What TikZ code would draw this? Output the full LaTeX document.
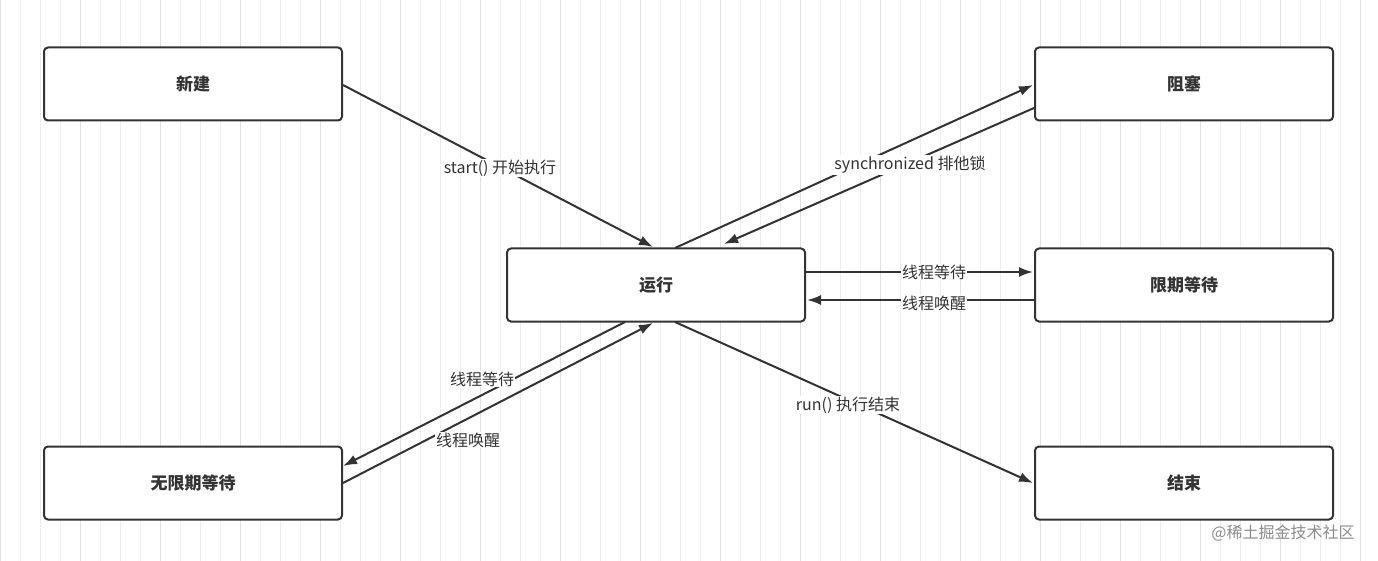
\documentclass[tikz,border=0pt]{standalone}
\usepackage{fontspec}
\setmainfont{Noto Sans CJK SC}
\usetikzlibrary{arrows.meta}
\definecolor{ln}{HTML}{333333}
\begin{document}
\begin{tikzpicture}[x=1pt,y=-1pt,
  box/.style={draw=ln,line width=2pt,rounded corners=4pt,minimum width=298pt,minimum height=73pt,font=\bfseries\fontsize{17}{17}\selectfont,text=ln,fill=white},
  arr/.style={draw=ln,line width=2pt,-{Latex[length=14pt,width=10pt]}},
  lab/.style={fill=white,inner sep=1pt,font=\fontsize{16}{16}\selectfont,text=ln}]
\fill[white] (0,0) rectangle (1378,561);
\useasboundingbox (0,0) rectangle (1378,561);
\draw[black!7,line width=0.6pt] (0,0) grid[step=20] (1378,561);
\draw[black!12,line width=0.8pt] (0,0) grid[step=80] (1378,561);
\node[box] (xj) at (193,84) {新建};
\node[box] (zs) at (1184,84) {阻塞};
\node[box] (yx) at (656,285) {运行};
\node[box] (xq) at (1184,285) {限期等待};
\node[box] (wx) at (193,483) {无限期等待};
\node[box] (js) at (1184,483) {结束};
\coordinate (a1) at (653,247);
\coordinate (a2) at (724,244);
\coordinate (a3) at (343,466);
\coordinate (a4) at (653,323);
\coordinate (a5) at (1033,483);
\draw[arr] (343,85) -- (a1);
\draw[arr] (675,248) -- (1033,85);
\draw[arr] (1034,108) -- (a2);
\draw[arr] (806,272) -- (1033,272);
\draw[arr] (1034,300) -- (807,300);
\draw[arr] (625,322) -- (a3);
\draw[arr] (343,483) -- (a4);
\draw[arr] (675,322) -- (a5);
\node[lab] (l1) at (500,168) {start() 开始执行};
\node[lab] (l2) at (910,165) {synchronized 排他锁};
\node[lab] (l3) at (934,272) {线程等待};
\node[lab] (l4) at (934,303) {线程唤醒};
\node[lab] (l5) at (482,379) {线程等待};
\node[lab] (l6) at (468,440) {线程唤醒};
\node[lab] (l7) at (848,405) {run() 执行结束};
\node[text=black!45,font=\fontsize{16}{16}\selectfont] (wm) at (1283,533) {@稀土掘金技术社区};
\end{tikzpicture}
\end{document}
